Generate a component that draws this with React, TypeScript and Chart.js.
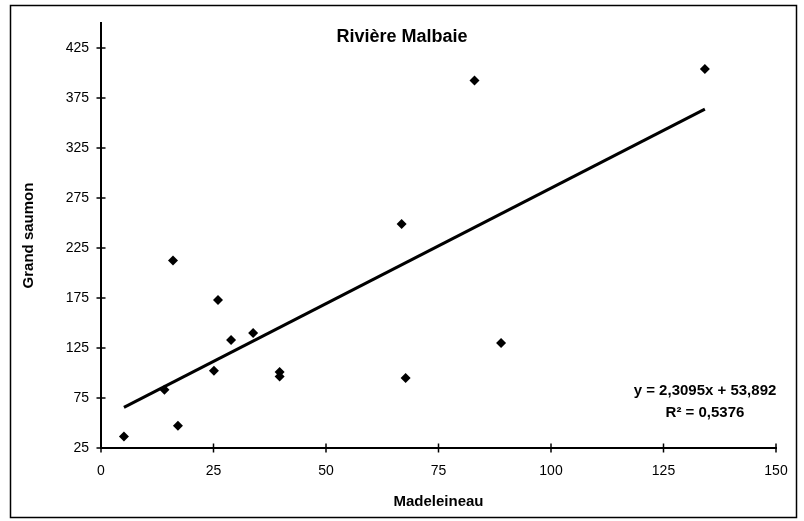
import React, { useEffect, useRef } from 'react';
import { Chart, registerables } from 'chart.js';

Chart.register(...registerables);

const chartTitle = 'Rivière Malbaie';
const xAxisTitle = 'Madeleineau';
const yAxisTitle = 'Grand saumon';

const madeleineau = [5.1, 14.1, 16.0, 17.1, 25.1, 26.0, 28.9, 33.8, 39.7, 39.7, 66.8, 67.7, 83.0, 88.9, 134.2];
const grandSaumon = [36.6, 83.3, 212.6, 47.3, 102.3, 173, 133, 140, 101, 96.6, 249, 95, 392.6, 130, 404];

const xTicks = [0, 25, 50, 75, 100, 125, 150];
const yTicks = [25, 75, 125, 175, 225, 275, 325, 375, 425];

const trendSlope = 2.3095;
const trendIntercept = 53.892;
const equationLabel = 'y = 2,3095x + 53,892';
const r2Label = 'R² = 0,5376';

const FONT = '"Liberation Sans", Arial, Helvetica, sans-serif';

const framePlugin = {
  id: 'framePlugin',
  beforeDraw(chart: any) {
    const ctx = chart.ctx;
    ctx.save();
    ctx.fillStyle = '#fff';
    ctx.fillRect(0, 0, chart.width, chart.height);
    ctx.strokeStyle = '#000';
    ctx.lineWidth = 1.5;
    ctx.strokeRect(10.5, 5.5, 786, 512);
    ctx.restore();
  },
  afterDraw(chart: any) {
    const ctx = chart.ctx;
    const xs = chart.scales.x;
    const ys = chart.scales.y;
    const area = chart.chartArea;
    ctx.save();
    ctx.strokeStyle = '#000';
    ctx.lineWidth = 1.5;
    xTicks.forEach((v) => {
      const px = xs.getPixelForValue(v);
      ctx.beginPath();
      ctx.moveTo(px, area.bottom - 4.5);
      ctx.lineTo(px, area.bottom + 4.5);
      ctx.stroke();
    });
    yTicks.forEach((v) => {
      const py = ys.getPixelForValue(v);
      ctx.beginPath();
      ctx.moveTo(area.left - 4.5, py);
      ctx.lineTo(area.left + 4.5, py);
      ctx.stroke();
    });
    ctx.fillStyle = '#000';
    ctx.textAlign = 'center';
    ctx.textBaseline = 'middle';
    ctx.font = `bold 18px ${FONT}`;
    ctx.fillText(chartTitle, chart.width / 2, 37);
    ctx.font = `bold 15px ${FONT}`;
    ctx.fillText(equationLabel, area.right - 71, area.bottom - 57);
    ctx.fillText(r2Label, area.right - 71, area.bottom - 35);
    ctx.restore();
  },
};

export default function App() {
  const canvasRef = useRef<HTMLCanvasElement | null>(null);

  useEffect(() => {
    if (!canvasRef.current) return;
    const points = madeleineau.map((x, i) => ({ x, y: grandSaumon[i] }));
    const xMin = Math.min(...madeleineau);
    const xMax = Math.max(...madeleineau);
    const trend = [
      { x: xMin, y: trendSlope * xMin + trendIntercept },
      { x: xMax, y: trendSlope * xMax + trendIntercept },
    ];

    const chart = new Chart(canvasRef.current, {
      type: 'scatter',
      data: {
        datasets: [
          {
            label: 'Tendance',
            data: trend,
            showLine: true,
            borderColor: '#000',
            borderWidth: 3,
            pointRadius: 0,
            fill: false,
            order: 2,
          } as any,
          {
            label: yAxisTitle,
            data: points,
            pointStyle: 'rectRot',
            pointRadius: 5,
            backgroundColor: '#000',
            borderColor: '#000',
            borderWidth: 0,
            order: 1,
          },
        ],
      },
      options: {
        responsive: false,
        animation: false,
        devicePixelRatio: 1,
        layout: { padding: { top: 23, right: 28, bottom: 0, left: 0 } },
        plugins: {
          legend: { display: false },
          tooltip: { enabled: false },
          title: { display: false },
        },
        scales: {
          x: {
            type: 'linear',
            min: 0,
            max: 150,
            afterBuildTicks: (s: any) => {
              s.ticks = xTicks.map((v) => ({ value: v }));
            },
            afterFit: (s: any) => {
              s.height = 73;
            },
            grid: { display: false },
            border: { display: true, color: '#000', width: 2 },
            ticks: {
              color: '#000',
              font: { family: FONT, size: 14 },
              padding: 7,
              maxRotation: 0,
            },
            title: {
              display: true,
              text: xAxisTitle,
              color: '#000',
              font: { family: FONT, size: 15, weight: 'bold' },
              padding: { top: 0, bottom: 10.5 },
            },
          },
          y: {
            type: 'linear',
            min: 25,
            max: 450,
            afterBuildTicks: (s: any) => {
              s.ticks = yTicks.map((v) => ({ value: v }));
            },
            afterFit: (s: any) => {
              s.width = 101;
            },
            grid: { display: false },
            border: { display: true, color: '#000', width: 2 },
            ticks: {
              color: '#000',
              font: { family: FONT, size: 14 },
              padding: 4,
            },
            title: {
              display: true,
              text: yAxisTitle,
              color: '#000',
              font: { family: FONT, size: 15, weight: 'bold' },
              padding: { top: 20, bottom: 0 },
            },
          },
        },
      },
      plugins: [framePlugin],
    });

    return () => chart.destroy();
  }, []);

  return (
    <div style={{ position: 'fixed', left: 0, top: 0, width: 804, height: 521, background: '#fff' }}>
      <canvas ref={canvasRef} width={804} height={521} style={{ display: 'block', width: 804, height: 521 }} />
    </div>
  );
}
